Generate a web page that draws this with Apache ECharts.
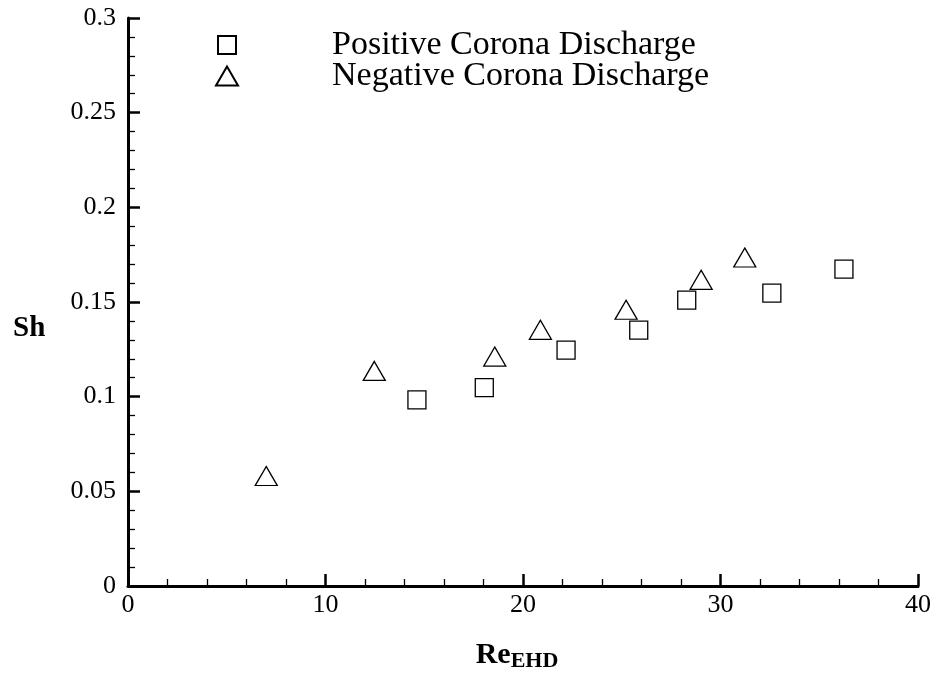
<!DOCTYPE html>
<html>
<head>
<meta charset="utf-8">
<script src="https://cdn.jsdelivr.net/npm/echarts@6/dist/echarts.min.js"></script>
<style>html,body{margin:0;padding:0;background:#fff}#chart{width:938px;height:675px}</style>
</head>
<body>
<div id="chart"></div>
<script>
var positiveRe = [14.63, 18.04, 22.18, 25.86, 28.29, 32.60, 36.25];
var positiveSh = [0.0983, 0.1048, 0.1246, 0.1351, 0.1510, 0.1547, 0.1674];
var negativeRe = [7.00, 12.47, 18.57, 20.88, 25.22, 29.02, 31.23];
var negativeSh = [0.0581, 0.1136, 0.1212, 0.1353, 0.1459, 0.1617, 0.1735];
var seriesNames = ['Positive Corona Discharge', 'Negative Corona Discharge'];
var xTicks = [0, 10, 20, 30, 40];
var yTicks = [0, 0.05, 0.1, 0.15, 0.2, 0.25, 0.3];

function pairs(xs, ys) { return xs.map(function (x, i) { return [x, ys[i]]; }); }

var FONT = '"Liberation Serif", "Times New Roman", serif';
var chart = echarts.init(document.getElementById('chart'));
chart.setOption({
  animation: false,
  backgroundColor: '#fff',
  grid: { left: 128, right: 20, top: 18, bottom: 89 },
  legend: [
    {
      data: [{ name: seriesNames[0], icon: 'rect' }],
      left: 217, top: 28, padding: 0, orient: 'vertical',
      itemWidth: 18, itemHeight: 18,
      textStyle: { fontFamily: FONT, fontSize: 34, color: '#000', padding: [0, 0, 0, 91] }
    },
    {
      data: [{ name: seriesNames[1], icon: 'triangle' }],
      left: 215, top: 59, padding: 0, orient: 'vertical',
      itemWidth: 22, itemHeight: 19,
      textStyle: { fontFamily: FONT, fontSize: 34, color: '#000', padding: [0, 0, 0, 89] }
    }
  ],
  xAxis: {
    type: 'value', min: xTicks[0], max: xTicks[xTicks.length - 1], interval: 10,
    axisLine: { show: true, onZero: false, lineStyle: { color: '#000', width: 3 } },
    axisTick: { show: true, inside: true, length: 12, lineStyle: { color: '#000', width: 2.5 } },
    minorTick: { show: true, splitNumber: 5, length: 7, lineStyle: { color: '#000', width: 1.3 } },
    splitLine: { show: false },
    axisLabel: { margin: 6, fontFamily: FONT, fontSize: 26, color: '#000' }
  },
  yAxis: {
    type: 'value', min: yTicks[0], max: yTicks[yTicks.length - 1], interval: 0.05,
    axisLine: { show: true, onZero: false, lineStyle: { color: '#000', width: 3 } },
    axisTick: { show: true, inside: true, length: 12, lineStyle: { color: '#000', width: 2.5 } },
    minorTick: { show: true, splitNumber: 5, length: 7, lineStyle: { color: '#000', width: 1.3 } },
    splitLine: { show: false },
    axisLabel: { margin: 12, fontFamily: FONT, fontSize: 26, color: '#000',
      formatter: function (v) { return String(+v.toFixed(2)); } }
  },
  graphic: [
    { type: 'text', left: 13, top: 314, style: { text: 'Sh', font: 'bold 29px ' + FONT, fill: '#000' } },
    { type: 'text', x: 517, y: 640, style: {
        text: '{a|Re}{b|EHD}', align: 'center', verticalAlign: 'top',
        rich: {
          a: { font: 'bold 30px ' + FONT, fill: '#000', verticalAlign: 'bottom', lineHeight: 30 },
          b: { font: 'bold 22px ' + FONT, fill: '#000', verticalAlign: 'bottom', lineHeight: 30, padding: [0, 0, -2, 0] }
        } } }
  ],
  series: [
    {
      name: seriesNames[0], type: 'scatter', symbol: 'rect', symbolSize: 18,
      data: pairs(positiveRe, positiveSh),
      itemStyle: { color: '#fff', borderColor: '#000', borderWidth: 1.3, opacity: 1 }
    },
    {
      name: seriesNames[1], type: 'scatter', symbol: 'triangle', symbolSize: [22, 19],
      data: pairs(negativeRe, negativeSh),
      itemStyle: { color: '#fff', borderColor: '#000', borderWidth: 1.3, opacity: 1 }
    }
  ]
});
</script>
</body>
</html>
